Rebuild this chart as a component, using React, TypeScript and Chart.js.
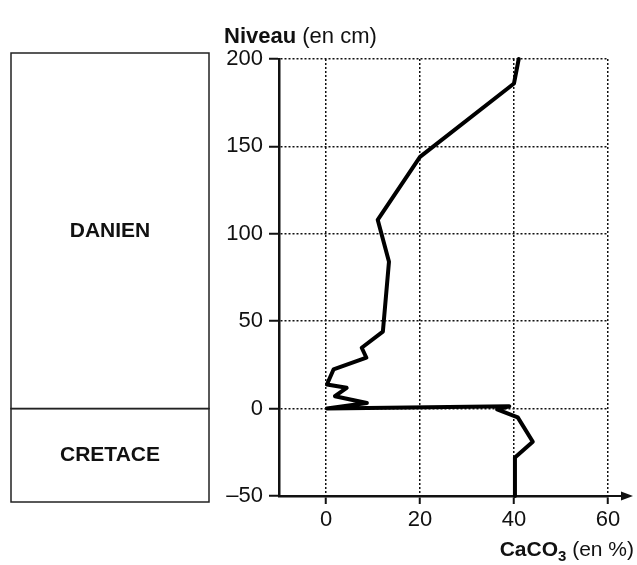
import React, { useEffect, useRef } from "react";
import { Chart, registerables } from "chart.js";

Chart.register(...registerables);

// CaCO3 profile (ordered along the path, bottom to top)
const levels = [-50, -28, -19, -5, -0.5, 1.3, 0, 3.2, 7.1, 11.9, 13.8, 22.4, 29.1, 34.8, 44, 84, 108, 144, 186, 200];
const caco3 = [40.2, 40.2, 44, 40.8, 36.4, 39, 0.2, 8.7, 1.9, 4.4, 0.2, 1.6, 8.6, 7.6, 12.1, 13.4, 11, 20, 40, 41];

const yTicks = [-50, 0, 50, 100, 150, 200];
const xTicks = [0, 20, 40, 60];
const xMin = -10;
const xMax = 60;

const stages = [
  { name: "DANIEN", from: 0, to: 200 },
  { name: "CRETACE", from: -50, to: 0 },
];

const FONT = "'Liberation Sans', Arial, Helvetica, sans-serif";

const decor = {
  id: "decor",
  beforeDraw(chart: any) {
    const { ctx, width, height } = chart;
    ctx.save();
    ctx.fillStyle = "#ffffff";
    ctx.fillRect(0, 0, width, height);
    ctx.restore();
  },
  afterDraw(chart: any) {
    const { ctx, chartArea } = chart;
    const y = chart.scales.y;
    ctx.save();
    // stratigraphic column
    const bl = 11;
    const br = chartArea.left - 70;
    ctx.strokeStyle = "#222";
    ctx.lineWidth = 1.5;
    ctx.fillStyle = "#111";
    ctx.font = `bold 21px ${FONT}`;
    ctx.textAlign = "center";
    ctx.textBaseline = "middle";
    for (const s of stages) {
      let t = y.getPixelForValue(s.to);
      let b = y.getPixelForValue(s.from);
      if (s.to === 200) t -= 6;
      if (s.from === -50) b += 6;
      ctx.strokeRect(bl, t, br - bl, b - t);
      ctx.fillText(s.name, (bl + br) / 2, (t + b) / 2);
    }
    // arrow extension of x axis
    const ax = chartArea.right;
    const ay = chartArea.bottom;
    ctx.strokeStyle = "#111";
    ctx.lineWidth = 2;
    ctx.beginPath();
    ctx.moveTo(ax, ay);
    ctx.lineTo(ax + 20, ay);
    ctx.stroke();
    ctx.beginPath();
    ctx.moveTo(ax + 25, ay);
    ctx.lineTo(ax + 13, ay - 4.5);
    ctx.lineTo(ax + 13, ay + 4.5);
    ctx.closePath();
    ctx.fill();
    // y title
    ctx.textAlign = "left";
    ctx.textBaseline = "alphabetic";
    ctx.font = `bold 22px ${FONT}`;
    const t1 = "Niveau";
    ctx.fillText(t1, 224, 43);
    const w1 = ctx.measureText(t1 + " ").width;
    ctx.font = `22px ${FONT}`;
    ctx.fillText("(en cm)", 224 + w1, 43);
    // x title
    ctx.font = `bold 21px ${FONT}`;
    const a = "CaCO";
    const wa = ctx.measureText(a).width;
    ctx.font = `bold 15px ${FONT}`;
    const wb = ctx.measureText("3").width;
    ctx.font = `21px ${FONT}`;
    const c = " (en %)";
    const wc = ctx.measureText(c).width;
    const x0 = 634 - (wa + wb + wc);
    const base = 556;
    ctx.font = `bold 21px ${FONT}`;
    ctx.fillText(a, x0, base);
    ctx.font = `bold 15px ${FONT}`;
    ctx.fillText("3", x0 + wa, base + 5);
    ctx.font = `21px ${FONT}`;
    ctx.fillText(c, x0 + wa + wb, base);
    ctx.restore();
  },
};

export default function App() {
  const ref = useRef<HTMLCanvasElement>(null);
  useEffect(() => {
    if (!ref.current) return;
    const chart = new Chart(ref.current, {
      type: "scatter",
      data: {
        datasets: [
          {
            data: levels.map((lv, i) => ({ x: caco3[i], y: lv })),
            showLine: true,
            borderColor: "#000",
            borderWidth: 4,
            pointRadius: 0,
            tension: 0,
            borderJoinStyle: "round",
            borderCapStyle: "round",
            clip: 6,
          } as any,
        ],
      },
      options: {
        animation: false,
        responsive: true,
        maintainAspectRatio: false,
        layout: { padding: { left: 209, top: 59, right: 29, bottom: 29 } },
        plugins: { legend: { display: false }, tooltip: { enabled: false } },
        scales: {
          x: {
            type: "linear",
            min: xMin,
            max: xMax,
            afterBuildTicks: (s: any) => {
              s.ticks = xTicks.map((v) => ({ value: v }));
            },
            afterFit: (s: any) => {
              s.height = 40;
            },
            grid: {
              color: "#111",
              lineWidth: 1.5,
              tickLength: 8,
              tickColor: "#111",
              tickWidth: 2,
            },
            border: { display: true, color: "#111", width: 2.5, dash: [2, 2] },
            ticks: {
              color: "#111",
              font: { size: 22, family: FONT },
              padding: 3,
              maxRotation: 0,
            },
          },
          y: {
            type: "linear",
            min: -50,
            max: 200,
            afterBuildTicks: (s: any) => {
              s.ticks = yTicks.map((v) => ({ value: v }));
            },
            afterFit: (s: any) => {
              s.width = 70;
            },
            grid: {
              color: "#111",
              lineWidth: 1.5,
              tickLength: 10,
              tickColor: "#111",
              tickWidth: 2,
            },
            border: { display: true, color: "#111", width: 2.5, dash: [2, 2] },
            ticks: {
              color: "#111",
              font: { size: 22, family: FONT },
              padding: 6,
              callback: (v: any) => (Number(v) < 0 ? "\u2013" + Math.abs(Number(v)) : String(v)),
            },
          },
        },
      },
      plugins: [decor],
    });
    return () => chart.destroy();
  }, []);
  return (
    <div style={{ position: "fixed", left: 0, top: 0, width: 637, height: 565, background: "#fff" }}>
      <canvas ref={ref} />
    </div>
  );
}
